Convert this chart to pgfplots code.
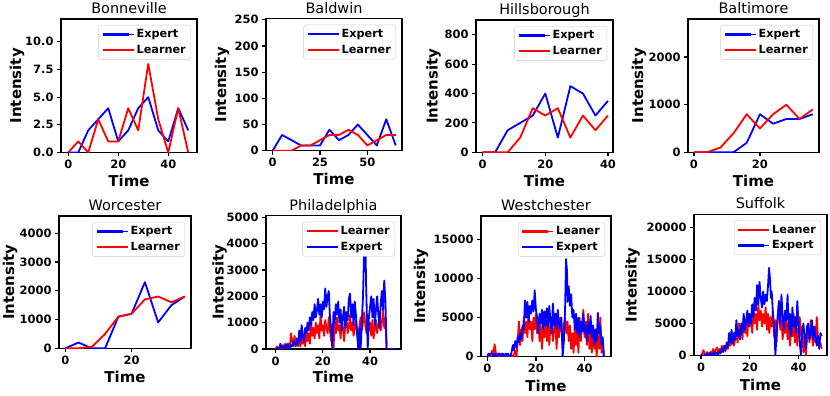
\documentclass[border=0pt]{standalone}
\usepackage{fontspec}
\setmainfont{DejaVu Sans}
\usepackage{pgfplots}
\pgfplotsset{compat=1.18}

\definecolor{expert}{RGB}{0,0,255}
\definecolor{learner}{RGB}{255,0,0}

\pgfplotsset{
  panel/.style={
    scale only axis, anchor=south west,
    axis line style={line width=1.5bp},
    every axis plot/.append style={line width=1.8bp, line join=round, no markers},
    tick pos=left, tick align=outside, major tick length=4bp,
    tick style={line width=1.2bp, black},
    ticklabel style={font=\bfseries\fontsize{11.5}{12}\selectfont},
    /pgf/number format/assume math mode=true,
    /pgf/number format/1000 sep={},
    scaled ticks=false,
    ymin=0,
    title style={font=\fontsize{14.5}{16}\selectfont, at={(0.5,1)}, anchor=base, yshift=-0.5bp},
    xlabel={Time}, ylabel={Intensity},
    label style={font=\bfseries\fontsize{15}{17}\selectfont},
    xlabel style={at={([yshift=-34bp]axis description cs:0.5,0)}, anchor=base},
    legend cell align=left,
    legend image code/.code={\draw[##1, line width=2.2bp] (0bp,0bp) -- (26bp,0bp); \path (26bp,0bp) -- (31bp,0bp);},
    legend style={at={(1,1)}, anchor=north east, xshift=-6bp, yshift=-6bp,
      draw=black!20, rounded corners=2.5bp, fill=white,
      font=\bfseries\fontsize{11.3}{13}\selectfont,
      inner xsep=3bp, inner ysep=2.5bp, row sep=2bp},
  },
  ylab/.style={ylabel style={at={([xshift=-#1]axis description cs:0,0.5)}, anchor=base}},
}

\begin{document}
\begin{tikzpicture}
\useasboundingbox (0,0) rectangle (830bp,396bp);

% ---------- top row ----------
\begin{axis}[panel, ylab=40bp, at={(61bp,243.5bp)}, width=136bp, height=133.5bp,
    title={Bonneville}, xmin=-2.9, xmax=51.5, ymax=12.05,
    xtick={0,20,40}, ytick={0,2.5,5,7.5,10},
    yticklabel style={/pgf/number format/fixed, /pgf/number format/fixed zerofill, /pgf/number format/precision=1}]
\addplot[expert] coordinates {(0,0) (4,0) (8,2) (12,3) (16,4) (20,1) (24,2) (28,4) (32,5) (36,2) (40,1) (44,4) (48,2)};
\addlegendentry{Expert}
\addplot[learner] coordinates {(0,0) (4,1) (8,0) (12,3) (16,1) (20,1) (24,4) (28,2) (32,8) (36,3) (40,0) (44,4) (48,0)};
\addlegendentry{Learner}
\end{axis}

\begin{axis}[panel, ylab=40bp, at={(266bp,245.3bp)}, width=136bp, height=132bp,
    title={Baldwin}, xmin=-3.5, xmax=68.3, ymax=252,
    xtick={0,25,50}, ytick={0,50,...,250}]
\addplot[expert] coordinates {(0,0) (5,30) (10,20) (15,10) (20,10) (25,10) (30,40) (35,20) (40,30) (45,50) (50,30) (55,10) (60,60) (65,10)};
\addlegendentry{Expert}
\addplot[learner] coordinates {(0,0) (5,0) (10,0) (15,10) (20,10) (25,20) (30,30) (35,30) (40,40) (45,30) (50,10) (55,20) (60,30) (65,30)};
\addlegendentry{Learner}
\end{axis}

\begin{axis}[panel, ylab=38.5bp, at={(476bp,243.7bp)}, width=137bp, height=132.3bp,
    title={Hillsborough}, xmin=-2.1, xmax=41.6, ymax=900,
    xtick={0,20,40}, ytick={0,200,...,800}]
\addplot[expert] coordinates {(0,0) (4,0) (8,150) (12,200) (16,250) (20,400) (24,100) (28,450) (32,400) (36,250) (40,350)};
\addlegendentry{Expert}
\addplot[learner] coordinates {(0,0) (4,0) (8,0) (12,100) (16,300) (20,250) (24,300) (28,100) (32,250) (36,150) (40,250)};
\addlegendentry{Learner}
\end{axis}

\begin{axis}[panel, ylab=45bp, at={(688bp,243.7bp)}, width=131bp, height=133.3bp,
    title={Baltimore}, xmin=-1.8, xmax=37.9, ymax=2800,
    xtick={0,20}, ytick={0,1000,2000}]
\addplot[expert] coordinates {(0,0) (4,0) (8,0) (12,0) (16,200) (20,800) (24,600) (28,700) (32,700) (36,800)};
\addlegendentry{Expert}
\addplot[learner] coordinates {(0,0) (4,0) (8,100) (12,400) (16,800) (20,500) (24,800) (28,1000) (32,700) (36,900)};
\addlegendentry{Learner}
\end{axis}

% ---------- bottom row ----------
\begin{axis}[panel, ylab=45bp, at={(59bp,47.7bp)}, width=132bp, height=132.3bp,
    title={Worcester}, xmin=-1.9, xmax=37.9, ymax=4600,
    xtick={0,20}, ytick={0,1000,...,4000}]
\addplot[expert] coordinates {(0,0) (4,200) (8,0) (12,0) (16,1100) (20,1200) (24,2300) (28,900) (32,1500) (36,1800)};
\addlegendentry{Expert}
\addplot[learner] coordinates {(0,0) (4,0) (8,50) (12,500) (16,1100) (20,1200) (24,1700) (28,1800) (32,1600) (36,1800)};
\addlegendentry{Learner}
\end{axis}

\begin{axis}[panel, ylab=42.5bp, at={(266bp,47bp)}, width=135bp, height=133.3bp,
    title={Philadelphia}, xmin=-4.1, xmax=53.1, ymax=5060,
    xtick={0,20,40}, ytick={0,1000,...,5000}]
\addplot[learner] coordinates {(0,0) (0.5,100) (1,0) (1.5,50) (2,100) (2.5,0) (3,150) (3.5,50) (4,200) (4.5,0) (5,100) (5.5,200) (6,50) (6.5,600) (7,300) (7.5,100) (8,500) (8.5,200) (9,400) (9.5,100) (10,300) (10.5,100) (11,600) (11.5,200) (12,400) (12.5,100) (13,800) (13.5,300) (14,600) (14.5,200) (15,1100) (15.5,500) (16,800) (16.5,400) (17,1000) (17.5,600) (18,900) (18.5,400) (19,1300) (19.5,700) (20,900) (20.5,500) (21,1100) (21.5,800) (22,600) (22.5,1200) (23,700) (23.5,300) (24,900) (24.5,0) (25,1000) (25.5,600) (26,1200) (26.5,700) (27,900) (27.5,400) (28,1100) (28.5,800) (29,300) (29.5,900) (30,1200) (30.5,600) (31,800) (31.5,1300) (32,700) (32.5,1000) (33,500) (33.5,800) (34,1100) (34.5,600) (35,200) (35.5,900) (36,1200) (36.5,700) (37,1000) (37.5,1400) (38,900) (38.5,600) (39,1200) (39.5,700) (40,1000) (40.5,500) (41,1100) (41.5,400) (42,800) (42.5,1100) (43,600) (43.5,900) (44,1200) (44.5,700) (45,1000) (45.5,1500) (46,800) (46.5,1200) (47,0) (51,0)};
\addlegendentry{Learner}
\addplot[expert] coordinates {(0,0) (0.5,0) (1,50) (1.5,0) (2,200) (2.5,50) (3,100) (3.5,0) (4,150) (4.5,50) (5,200) (5.5,100) (6,0) (6.5,150) (7,100) (7.5,300) (8,200) (8.5,100) (9,400) (9.5,200) (10,700) (10.5,300) (11,900) (11.5,500) (12,300) (12.5,800) (13,600) (13.5,1000) (14,700) (14.5,1200) (15,900) (15.5,1400) (16,1100) (16.5,1700) (17,1200) (17.5,1500) (18,1900) (18.5,1300) (19,1700) (19.5,1200) (20,1800) (20.5,1500) (21,2300) (21.5,1600) (22,2000) (22.5,2200) (23,1200) (23.5,800) (24,0) (24.5,1400) (25,1000) (25.5,1700) (26,1300) (26.5,1800) (27,1000) (27.5,1500) (28,700) (28.5,1200) (29,1600) (29.5,800) (30,1400) (30.5,1100) (31,1900) (31.5,2100) (32,1200) (32.5,1700) (33,900) (33.5,1800) (34,1300) (34.5,600) (35,0) (35.5,800) (36,0) (36.5,1000) (37,2000) (37.5,3800) (37.7,4250) (38,4200) (38.3,2500) (39,0) (39.5,1200) (40,1600) (40.5,2000) (41,1200) (41.5,1900) (42,900) (42.5,1500) (43,2000) (43.5,1300) (44,800) (44.5,1700) (45,2200) (45.5,1500) (46,2600) (46.5,1800) (47,0) (51,0)};
\addlegendentry{Expert}
\end{axis}

\begin{axis}[panel, ylab=56bp, at={(481bp,39.3bp)}, width=130bp, height=140.7bp,
    title={Westchester}, xmin=-2.6, xmax=50.9, ymax=18000,
    xlabel style={at={([yshift=-35bp]axis description cs:0.5,0)}, anchor=base},
    xtick={0,20,40}, ytick={0,5000,10000,15000}]
\addplot[learner] coordinates {(0,0) (0.5,200) (1,0) (1.5,300) (2,800) (2.5,400) (3,1600) (3.5,500) (4,200) (4.5,400) (5,0) (5.5,300) (6,100) (6.5,400) (7,0) (7.5,300) (8,200) (8.5,0) (9,100) (9.5,0) (10,200) (10.5,0) (11,300) (11.5,800) (12,0) (12.5,2000) (13,4500) (13.5,1500) (14,3500) (14.5,2000) (15,5000) (15.5,3000) (16,4500) (16.5,2500) (17,5500) (17.5,3500) (18,4500) (18.5,2000) (19,5000) (19.5,3500) (20,5500) (20.5,3000) (21,4500) (21.5,2000) (22,4000) (22.5,1000) (23,3500) (23.5,2500) (24,5000) (24.5,2000) (25,4500) (25.5,1500) (26,4000) (26.5,5000) (27,2000) (27.5,3500) (28,4500) (28.5,1000) (29,4000) (29.5,2500) (30,5000) (30.5,3500) (31,1500) (31.5,4000) (32,5000) (32.5,3000) (33,4500) (33.5,2000) (34,4000) (34.5,1000) (35,3000) (35.5,500) (36,4000) (36.5,1500) (37,3500) (37.5,500) (38,5000) (38.5,2000) (39,4000) (39.5,6000) (40,2500) (40.5,4500) (41,1500) (41.5,5500) (42,1000) (42.5,3000) (43,500) (43.5,4000) (44,1000) (44.5,2500) (45,0) (45.5,3000) (46,1000) (46.5,5000) (47,500) (47.5,1500) (48,0) (48.5,0)};
\addlegendentry{Leaner}
\addplot[expert] coordinates {(0,0) (0.5,400) (1,200) (1.5,400) (2,300) (2.5,0) (3,400) (3.5,200) (4,0) (4.5,300) (5,400) (5.5,100) (6,400) (6.5,300) (7,0) (7.5,400) (8,200) (8.5,400) (9,0) (9.5,100) (10,600) (10.5,1500) (11,800) (11.5,2000) (12,1200) (12.5,2500) (13,1800) (13.5,3000) (14,2200) (14.5,4000) (15,3500) (15.5,7200) (16,5000) (16.5,7000) (17,4500) (17.5,6500) (18,5500) (18.5,7200) (19,5800) (19.5,8500) (20,6000) (20.5,5000) (21,3000) (21.5,5500) (22,4200) (22.5,6000) (23,3500) (23.5,5800) (24,4000) (24.5,6200) (25,3800) (25.5,6500) (26,4500) (26.5,3000) (27,6800) (27.5,4000) (28,5500) (28.5,3600) (29,6000) (29.5,4200) (30,3600) (30.5,5000) (31,0) (31.5,2000) (32,6000) (32.4,12500) (32.8,11000) (33,7000) (33.5,9000) (34,6500) (34.5,8000) (35,5000) (35.5,6000) (36,3500) (36.5,5500) (37,3000) (37.5,5000) (38,2500) (38.5,4500) (39,3200) (39.5,5500) (40,3000) (40.5,4000) (41,2000) (41.5,4500) (42,3000) (42.5,5200) (43,2500) (43.5,4000) (44,1500) (44.5,3500) (45,2000) (45.5,5600) (46,3000) (46.5,4000) (47,1500) (47.5,2500) (48,0) (48.5,0)};
\addlegendentry{Expert}
\end{axis}

\begin{axis}[panel, ylab=57.5bp, at={(694bp,40.7bp)}, width=133bp, height=141bp,
    title={Suffolk}, xmin=-2.9, xmax=51.7, ymax=22100,
    xlabel style={at={([yshift=-35bp]axis description cs:0.5,0)}, anchor=base},
    xtick={0,20,40}, ytick={0,5000,...,20000}]
\addplot[learner] coordinates {(0,0) (0.5,300) (1,800) (1.5,200) (2,0) (2.5,500) (3,100) (3.5,0) (4,600) (4.5,200) (5,1000) (5.5,300) (6,800) (6.5,1200) (7,400) (7.5,1000) (8,500) (8.5,1500) (9,800) (9.5,1200) (10,600) (10.5,1800) (11,1000) (11.5,2500) (12,1500) (12.5,2000) (13,3500) (13.5,1500) (14,2500) (14.5,4000) (15,2000) (15.5,5000) (16,3000) (16.5,4500) (17,2500) (17.5,6000) (18,3500) (18.5,5000) (19,3000) (19.5,6500) (20,4500) (20.5,6000) (21,3500) (21.5,7000) (22,5000) (22.5,6500) (23,4000) (23.5,8000) (24,5500) (24.5,7000) (25,4500) (25.5,6500) (26,5000) (26.5,7500) (27,4000) (27.5,6500) (28,3500) (28.5,6000) (29,4500) (29.5,7000) (30,3000) (30.5,5500) (31,2000) (31.5,6500) (32,8500) (32.5,4000) (33,5500) (33.5,2500) (34,5000) (34.5,3500) (35,6000) (35.5,2500) (36,5000) (36.5,1500) (37,4500) (37.5,3000) (38,6500) (38.5,2000) (39,5000) (39.5,1500) (40,4000) (40.5,6000) (41,3000) (41.5,4500) (42,500) (42.5,3000) (43,0) (43.5,2500) (44,4000) (44.5,2000) (45,5500) (45.5,3000) (46,1500) (46.5,4500) (47,2000) (47.5,6000) (48,2500) (48.5,1500) (49,2000) (49.5,1000)};
\addlegendentry{Leaner}
\addplot[expert] coordinates {(0,0) (0.5,0) (1,0) (1.5,0) (2,0) (2.5,300) (3,0) (3.5,400) (4,100) (4.5,300) (5,0) (5.5,500) (6,200) (6.5,400) (7,100) (7.5,600) (8,300) (8.5,1000) (9,500) (9.5,1500) (10,800) (10.5,2000) (11,1200) (11.5,3500) (12,2000) (12.5,4000) (13,1800) (13.5,3500) (14,2500) (14.5,5500) (15,3000) (15.5,4000) (16,2500) (16.5,5000) (17,3500) (17.5,6500) (18,4000) (18.5,5500) (19,7000) (19.5,4500) (20,6500) (20.5,5000) (21,8000) (21.5,6000) (22,9000) (22.5,7000) (23,11000) (23.5,8000) (24,11500) (24.5,9000) (25,7500) (25.5,10000) (26,8000) (26.5,9500) (27,8500) (27.5,11000) (27.9,13700) (28.3,12000) (28.7,9000) (29,10000) (29.5,6500) (30,4500) (30.5,0) (31,3500) (31.5,6000) (32,8500) (32.5,5000) (33,9500) (33.5,6000) (34,4000) (34.5,7000) (35,5500) (35.5,9500) (36,4000) (36.5,6500) (37,3000) (37.5,7500) (38,4500) (38.5,6000) (39,3500) (39.5,8500) (40,5000) (40.5,2000) (41,0) (41.5,3500) (42,5000) (42.5,3000) (43,1000) (43.5,4500) (44,5000) (44.5,2500) (45,3500) (45.5,5500) (46,2500) (46.5,4500) (47,3000) (47.5,1500) (48,3000) (48.5,1000) (49,3500) (49.5,3000)};
\addlegendentry{Expert}
\end{axis}

\end{tikzpicture}
\end{document}
